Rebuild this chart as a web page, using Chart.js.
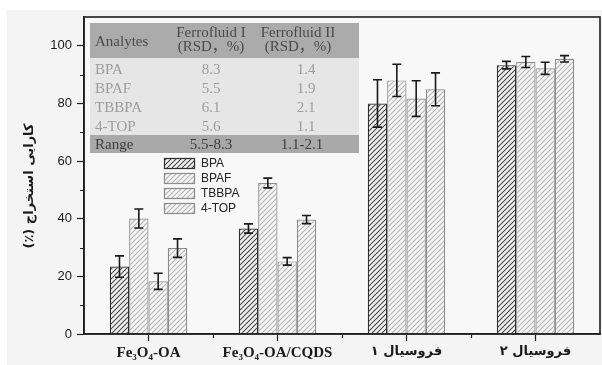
<!DOCTYPE html>
<html>
<head>
<meta charset="utf-8">
<script src="https://cdn.jsdelivr.net/npm/chart.js@4.4.1/dist/chart.umd.min.js"></script>
<style>
  html, body { margin: 0; padding: 0; background: #fff; }
  canvas { display: block; }
</style>
</head>
<body>
<canvas id="chart" width="602" height="365"></canvas>
<script>
// categories and series
const categories = ['Fe₃O₄-OA', 'Fe₃O₄-OA/CQDS', 'فروسیال ۱', 'فروسیال ۲'];
const seriesNames = ['BPA', 'BPAF', 'TBBPA', '4-TOP'];

const bpaValues   = [23.4, 36.6, 80.0, 93.3];
const bpafValues  = [40.1, 52.4, 88.0, 94.4];
const tbbpaValues = [18.3, 25.2, 81.7, 92.2];
const topValues   = [29.8, 39.7, 84.9, 95.5];

const bpaErrors   = [3.7, 1.6, 8.2, 1.3];
const bpafErrors  = [3.3, 1.7, 5.6, 1.9];
const tbbpaErrors = [2.8, 1.3, 6.2, 2.1];
const topErrors   = [3.2, 1.4, 5.7, 1.1];

const yTicks = [0, 20, 40, 60, 80, 100];
const yTitle = 'کارایی استخراج (٪)';

// inset table
const tableHeadTop = ['Analytes', 'Ferrofluid I', 'Ferrofluid II'];
const tableHeadSub = ['', '(RSD，%)', '(RSD，%)'];
const tableAnalytes = ['BPA', 'BPAF', 'TBBPA', '4-TOP'];
const tableFerro1 = ['8.3', '5.5', '6.1', '5.6'];
const tableFerro2 = ['1.4', '1.9', '2.1', '1.1'];
const tableRange = ['Range', '5.5-8.3', '1.1-2.1'];

const canvas = document.getElementById('chart');
const ctx = canvas.getContext('2d');

// diagonal hatch fill
function hatch(bg, line, step, lw) {
    const c = document.createElement('canvas');
    c.width = step; c.height = step;
    const g = c.getContext('2d');
    g.fillStyle = bg;
    g.fillRect(0, 0, step, step);
    g.strokeStyle = line;
    g.lineWidth = lw;
    g.beginPath();
    g.moveTo(-1, step + 1); g.lineTo(step + 1, -1);
    g.moveTo(-1, 1); g.lineTo(1, -1);
    g.moveTo(step - 1, step + 1); g.lineTo(step + 1, step - 1);
    g.stroke();
    return ctx.createPattern(c, 'repeat');
}

const darkHatch = hatch('#f0f0f0', '#4a4a4a', 5, 1.1);
const lightHatch = hatch('#f6f6f6', '#b4b4b4', 5, 1.1);

const styles = [
    { fill: darkHatch, border: '#2e2e2e' },
    { fill: lightHatch, border: '#8c8c8c' },
    { fill: lightHatch, border: '#8c8c8c' },
    { fill: lightHatch, border: '#8c8c8c' }
];

const seriesValues = [bpaValues, bpafValues, tbbpaValues, topValues];
const seriesErrors = [bpaErrors, bpafErrors, tbbpaErrors, topErrors];

const datasets = seriesNames.map((name, i) => ({
    label: name,
    data: seriesValues[i],
    errors: seriesErrors[i],
    backgroundColor: styles[i].fill,
    borderColor: styles[i].border,
    borderWidth: 1.2,
    categoryPercentage: 0.6,
    barPercentage: 1.0
}));

// figure background + frame + minor ticks + title
const backdrop = {
    id: 'backdrop',
    beforeDraw(chart) {
        const g = chart.ctx;
        g.save();
        g.fillStyle = '#ffffff';
        g.fillRect(0, 0, chart.width, chart.height);
        g.fillStyle = '#f4f4f4';
        g.fillRect(7, 10, chart.width - 7, chart.height - 10);
        const a = chart.chartArea;
        g.fillStyle = '#f8f8f8';
        g.fillRect(a.left, a.top, a.right - a.left, a.bottom - a.top);
        g.restore();
    },
    afterDraw(chart) {
        const g = chart.ctx;
        const a = chart.chartArea;
        const y = chart.scales.y;
        g.save();
        g.strokeStyle = '#1e1e1e';
        g.lineWidth = 1.6;
        g.strokeRect(a.left, a.top, a.right - a.left, a.bottom - a.top);
        g.lineWidth = 1.2;
        g.beginPath();
        for (let v = 10; v <= 90; v += 20) {
            const py = Math.round(y.getPixelForValue(v)) + 0.5;
            g.moveTo(a.left - 4, py); g.lineTo(a.left, py);
        }
        const step = (a.right - a.left) / categories.length;
        for (let k = 1; k < categories.length; k++) {
            const px = Math.round(a.left + k * step) + 0.5;
            g.moveTo(px, a.bottom); g.lineTo(px, a.bottom + 4);
        }
        g.stroke();
        // y title, right-to-left so "(٪)" sits at the bottom
        g.translate(30, 186);
        g.rotate(-Math.PI / 2);
        g.fillStyle = '#1a1a1a';
        g.font = 'bold 13px "DejaVu Sans"';
        g.direction = 'rtl';
        g.textAlign = 'center';
        g.textBaseline = 'middle';
        g.fillText(yTitle, 0, 0);
        g.restore();
    }
};

// I-shaped error bars
const errorBars = {
    id: 'errorBars',
    afterDatasetsDraw(chart) {
        const g = chart.ctx;
        const y = chart.scales.y;
        g.save();
        g.strokeStyle = '#1a1a1a';
        g.lineWidth = 1.6;
        chart.data.datasets.forEach((ds, i) => {
            const meta = chart.getDatasetMeta(i);
            meta.data.forEach((bar, j) => {
                const v = ds.data[j], e = ds.errors[j];
                const top = y.getPixelForValue(v + e);
                const bot = y.getPixelForValue(v - e);
                const cx = bar.x, half = 4.5;
                g.beginPath();
                g.moveTo(cx, top); g.lineTo(cx, bot);
                g.moveTo(cx - half, top); g.lineTo(cx + half, top);
                g.moveTo(cx - half, bot); g.lineTo(cx + half, bot);
                g.stroke();
            });
        });
        g.restore();
    }
};

// inset table and legend
const insets = {
    id: 'insets',
    afterDatasetsDraw(chart) {
        const g = chart.ctx;
        g.save();
        const left = 90, right = 359;
        const colX = [95, 211, 302];
        g.fillStyle = '#ababab';
        g.fillRect(left, 23, right - left, 35);
        g.fillStyle = '#e6e6e6';
        g.fillRect(left, 58, right - left, 77);
        g.fillStyle = '#a9a9a9';
        g.fillRect(left, 135, right - left, 18);

        g.textBaseline = 'middle';
        g.font = '15px "Liberation Serif", "Noto Sans CJK SC"';
        g.fillStyle = '#4a4a4a';
        g.textAlign = 'left';
        g.fillText(tableHeadTop[0], colX[0], 42);
        g.textAlign = 'center';
        g.fillText(tableHeadTop[1], colX[1], 33);
        g.fillText(tableHeadTop[2], colX[2] - 4, 33);
        g.fillText(tableHeadSub[1], colX[1], 47);
        g.fillText(tableHeadSub[2], colX[2] - 4, 47);

        g.fillStyle = '#9c9c9c';
        const rowY = [70, 89, 108, 127];
        tableAnalytes.forEach((name, r) => {
            g.textAlign = 'left';
            g.fillText(name, colX[0], rowY[r]);
            g.textAlign = 'center';
            g.fillText(tableFerro1[r], colX[1], rowY[r]);
            g.fillText(tableFerro2[r], colX[2] + 4, rowY[r]);
        });

        g.fillStyle = '#3e3e3e';
        g.textAlign = 'left';
        g.fillText(tableRange[0], colX[0], 145);
        g.textAlign = 'center';
        g.fillText(tableRange[1], colX[1], 145);
        g.fillText(tableRange[2], colX[2], 145);

        // legend
        g.font = '12px "Liberation Sans"';
        g.textAlign = 'left';
        seriesNames.forEach((name, i) => {
            const ly = 158 + i * 15;
            g.fillStyle = styles[i].fill;
            g.fillRect(164, ly, 31, 11);
            g.strokeStyle = styles[i].border;
            g.lineWidth = 1.2;
            g.strokeRect(164.5, ly + 0.5, 30, 10);
            g.fillStyle = '#222';
            g.fillText(name, 201, ly + 6);
        });
        g.restore();
    }
};

new Chart(ctx, {
    type: 'bar',
    data: { labels: categories, datasets },
    options: {
        responsive: false,
        animation: false,
        layout: { padding: { top: 17, right: 2, left: 0, bottom: 0 } },
        plugins: {
            legend: { display: false },
            tooltip: { enabled: false }
        },
        scales: {
            x: {
                offset: true,
                afterFit(scale) { scale.height = 31; },
                grid: {
                    offset: false,
                    drawOnChartArea: false,
                    tickLength: 7,
                    tickColor: '#1e1e1e',
                    tickWidth: 1.2
                },
                border: { color: '#1e1e1e', width: 1.6 },
                ticks: {
                    color: '#1a1a1a',
                    padding: 3,
                    maxRotation: 0,
                    font: (c) => c.index < 2
                        ? { family: '"Liberation Serif"', size: 15, weight: 'bold' }
                        : { family: '"DejaVu Sans"', size: 13, weight: 'bold' }
                }
            },
            y: {
                min: 0,
                max: 110,
                afterFit(scale) { scale.width = 84; },
                afterBuildTicks(scale) {
                    scale.ticks = yTicks.map(v => ({ value: v }));
                },
                grid: {
                    drawOnChartArea: false,
                    tickLength: 7,
                    tickColor: '#1e1e1e',
                    tickWidth: 1.2
                },
                border: { color: '#1e1e1e', width: 1.6 },
                ticks: {
                    color: '#1a1a1a',
                    padding: 5,
                    font: { family: '"Liberation Sans"', size: 13 }
                }
            }
        }
    },
    plugins: [backdrop, errorBars, insets]
});
</script>
</body>
</html>
